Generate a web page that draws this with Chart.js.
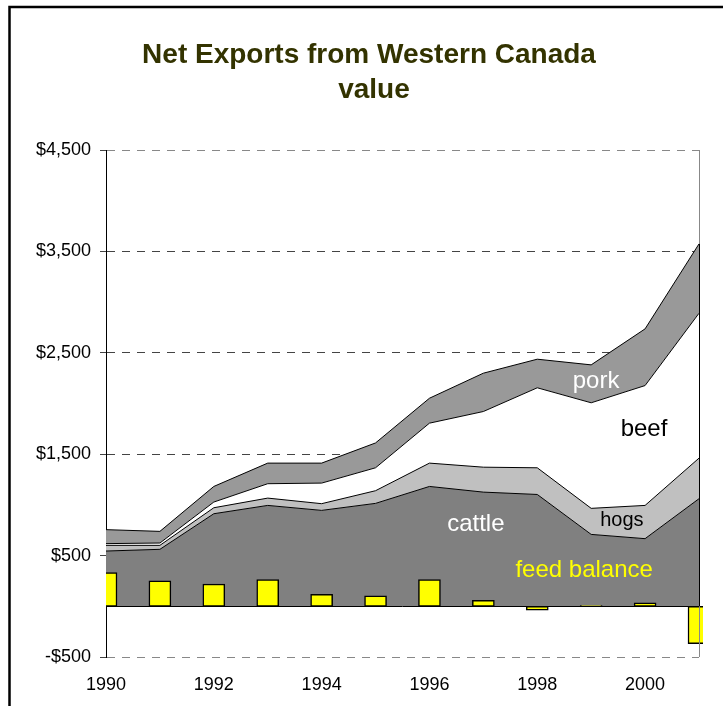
<!DOCTYPE html>
<html>
<head>
<meta charset="utf-8">
<script src="https://cdn.jsdelivr.net/npm/chart.js@4"></script>
<style>
  body { margin: 0; background: #fff; }
  canvas { display: block; }
</style>
</head>
<body>
<canvas id="chart" width="723" height="706"></canvas>
<script>
const years = ['1990', '1991', '1992', '1993', '1994', '1995', '1996', '1997', '1998', '1999', '2000', '2001'];
const cattle = [545, 562, 913, 995, 946, 1015, 1182, 1126, 1103, 709, 667, 1061];
const hogs = [56, 39, 59, 72, 66, 125, 230, 246, 263, 257, 328, 400];
const beef = [17, 23, 56, 142, 203, 226, 394, 549, 789, 1041, 1182, 1429];
const pork = [138, 115, 154, 203, 197, 245, 246, 378, 282, 374, 559, 684];
const feedBalance = [332, 250, 220, 263, 118, 103, 263, 59, -39, 8, 33, -368];
const yTicks = [-500, 500, 1500, 2500, 3500, 4500];
const titleLines = ['Net Exports from Western Canada', 'value'];

// in-chart labels: text, year index, value
const areaLabels = [
  ['pork', 9.09, 2215, '#fff', 24],
  ['beef', 9.98, 1745, '#000', 24],
  ['cattle', 6.86, 808, '#fff', 24],
  ['hogs', 9.57, 850, '#000', 20],
  ['feed balance', 8.87, 350, '#ffff00', 24],
];

const font = '"Liberation Sans", Arial, sans-serif';

function money(v) {
  const s = Math.abs(v).toString().replace(/\B(?=(\d{3})+(?!\d))/g, ',');
  return (v < 0 ? '-$' : '$') + s;
}

const decor = {
  id: 'decor',
  beforeDraw(chart) {
    const ctx = chart.ctx;
    ctx.save();
    ctx.strokeStyle = '#000';
    ctx.lineWidth = 2.5;
    ctx.beginPath();
    ctx.moveTo(9.5, 706);
    ctx.lineTo(9.5, 7);
    ctx.lineTo(723, 7);
    ctx.stroke();
    ctx.fillStyle = '#333300';
    ctx.font = 'bold 28px ' + font;
    ctx.textAlign = 'center';
    ctx.textBaseline = 'alphabetic';
    ctx.fillText(titleLines[0], 369, 63);
    ctx.fillText(titleLines[1], 374, 98);
    ctx.restore();
  },
  afterDatasetsDraw(chart) {
    const ctx = chart.ctx;
    const area = chart.chartArea;
    const x = chart.scales.x, y = chart.scales.y;
    const last = years.length - 1;
    const top = cattle[last] + hogs[last] + beef[last] + pork[last];
    ctx.save();
    ctx.lineWidth = 1;
    ctx.strokeStyle = '#888';
    ctx.beginPath();
    ctx.moveTo(area.right + 0.5, area.top);
    ctx.lineTo(area.right + 0.5, area.bottom);
    ctx.stroke();
    ctx.strokeStyle = '#000';
    ctx.beginPath();
    ctx.moveTo(area.right + 0.5, y.getPixelForValue(0));
    ctx.lineTo(area.right + 0.5, y.getPixelForValue(top));
    ctx.stroke();
    const y0 = Math.round(y.getPixelForValue(0)) + 0.5;
    ctx.beginPath();
    ctx.moveTo(area.left, y0);
    ctx.lineTo(area.right, y0);
    ctx.stroke();
    ctx.textAlign = 'center';
    ctx.textBaseline = 'middle';
    areaLabels.forEach(([t, i, v, c, s]) => {
      ctx.fillStyle = c;
      ctx.font = s + 'px ' + font;
      ctx.fillText(t, x.getPixelForValue(i), y.getPixelForValue(v));
    });
    ctx.restore();
  }
};

const area = (label, data, color, fill) => ({
  type: 'line', label, data, fill, stack: 'areas', order: 1,
  backgroundColor: color, borderColor: '#000', borderWidth: 1,
  pointRadius: 0, tension: 0,
});

new Chart(document.getElementById('chart'), {
  type: 'line',
  data: {
    labels: years,
    datasets: [
      area('cattle', cattle, '#808080', 'origin'),
      area('hogs', hogs, '#c0c0c0', '-1'),
      area('beef', beef, '#ffffff', '-1'),
      area('pork', pork, '#999999', '-1'),
      { type: 'bar', label: 'feed balance', data: feedBalance, stack: 'feed', order: 0,
        backgroundColor: '#ffff00', borderColor: '#000', borderWidth: 1.5, borderSkipped: false,
        barThickness: 22, clip: { left: 0, top: 0, right: 4, bottom: 0 } },
    ],
  },
  options: {
    responsive: false,
    animation: false,
    layout: { padding: { left: 12, right: 24, top: 150, bottom: 0 } },
    plugins: { legend: { display: false }, tooltip: { enabled: false }, title: { display: false } },
    scales: {
      x: {
        type: 'category', offset: false,
        grid: { display: false, drawTicks: false },
        border: { display: false },
        ticks: { autoSkip: false, maxRotation: 0, padding: 17, color: '#000', font: { family: font, size: 18 },
          callback: (v, i) => i % 2 === 0 ? years[i] : '' },
        afterFit: s => { s.height = 49; },
      },
      y: {
        stacked: true, min: -500, max: 4500,
        afterBuildTicks: s => { s.ticks = yTicks.map(v => ({ value: v })); },
        afterFit: s => { s.width = 94; },
        grid: {
          color: c => (c.tick && (c.tick.value === 4500 || c.tick.value === -500)) ? '#888' : '#444',
          lineWidth: 1, tickLength: 6, tickColor: '#444', tickBorderDash: [],
        },
        border: { display: true, color: '#000', width: 1, dash: [8, 7] },
        ticks: { padding: 9, color: '#000', font: { family: font, size: 18 }, callback: v => money(v) },
      },
    },
  },
  plugins: [decor],
});
</script>
</body>
</html>
